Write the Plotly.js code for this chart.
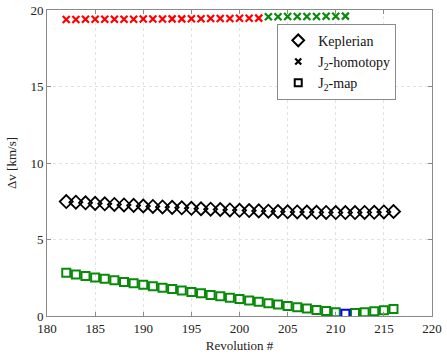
<!DOCTYPE html>
<html>
<head>
<meta charset="utf-8">
<script src="https://cdn.plot.ly/plotly-3.0.1.min.js"></script>
<style>html,body{margin:0;padding:0;background:#fff}#chart{width:447px;height:358px}</style>
</head>
<body>
<div id="chart"></div>
<script>
// Revolution numbers
const revs = [182,183,184,185,186,187,188,189,190,191,192,193,194,195,196,197,198,199,200,
  201,202,203,204,205,206,207,208,209,210,211,212,213,214,215,216];

// Keplerian delta-v [km/s]
const keplerian = [7.48,7.44,7.40,7.36,7.33,7.29,7.26,7.23,7.19,7.16,7.13,7.10,7.07,7.04,7.01,
  6.98,6.96,6.93,6.91,6.89,6.87,6.85,6.83,6.81,6.80,6.79,6.78,6.77,6.76,6.76,6.76,6.77,6.78,6.80,6.83];

// J2-homotopy delta-v [km/s], split by solution branch
const homotopyRedRevs = [182,183,184,185,186,187,188,189,190,191,192,193,194,195,196,197,198,199,200,201,202];
const homotopyRed = [19.38,19.38,19.39,19.39,19.39,19.40,19.40,19.40,19.41,19.41,19.41,19.42,19.42,
  19.43,19.43,19.44,19.44,19.45,19.46,19.46,19.47];
const homotopyGreenRevs = [203,204,205,206,207,208,209,210,211];
const homotopyGreen = [19.56,19.56,19.57,19.57,19.58,19.58,19.59,19.59,19.60];

// J2-map delta-v [km/s]; the minimum revolution is highlighted
const mapRevs = [182,183,184,185,186,187,188,189,190,191,192,193,194,195,196,197,198,199,200,
  201,202,203,204,205,206,207,208,209,210,212,213,214,215,216];
const mapDv = [2.82,2.72,2.62,2.52,2.43,2.33,2.23,2.14,2.04,1.95,1.85,1.76,1.66,1.57,1.48,1.38,
  1.29,1.20,1.11,1.02,0.93,0.84,0.75,0.66,0.58,0.49,0.40,0.32,0.24,0.19,0.25,0.31,0.38,0.45];
const mapMinRev = [211];
const mapMin = [0.14];

const serif = 'Liberation Serif';

const traces = [
  {x: homotopyRedRevs, y: homotopyRed, mode: 'markers', showlegend: false,
   marker: {symbol: 'x-thin-open', size: 7, color: '#ff0000', line: {color: '#ff0000', width: 2.2}}},
  {x: homotopyGreenRevs, y: homotopyGreen, mode: 'markers', showlegend: false,
   marker: {symbol: 'x-thin-open', size: 7, color: '#0a8a0a', line: {color: '#0a8a0a', width: 2.2}}},
  {x: revs, y: keplerian, mode: 'markers', showlegend: false,
   marker: {symbol: 'diamond-open', size: 10, color: '#000', line: {color: '#000', width: 1.8}}},
  {x: mapRevs, y: mapDv, mode: 'markers', showlegend: false,
   marker: {symbol: 'square-open', size: 8, color: '#0a8a0a', line: {color: '#0a8a0a', width: 2}}},
  {x: mapMinRev, y: mapMin, mode: 'markers', showlegend: false,
   marker: {symbol: 'square-open', size: 8, color: '#0000ff', line: {color: '#0000ff', width: 2}}},
  // legend entries drawn in black
  {x: [null], y: [null], mode: 'markers', name: 'Keplerian',
   marker: {symbol: 'diamond-open', size: 9, color: '#000', line: {color: '#000', width: 2}}},
  {x: [null], y: [null], mode: 'markers', name: 'J<sub>2</sub>-homotopy',
   marker: {symbol: 'x-thin-open', size: 6, color: '#000', line: {color: '#000', width: 2.2}}},
  {x: [null], y: [null], mode: 'markers', name: 'J<sub>2</sub>-map',
   marker: {symbol: 'square-open', size: 7, color: '#000', line: {color: '#000', width: 2}}}
];

const axisCommon = {
  showline: true, linecolor: '#8a8a8a', linewidth: 1, mirror: 'ticks',
  ticks: 'inside', ticklen: 4, tickcolor: '#8a8a8a',
  showgrid: true, gridcolor: '#e2e2e2', griddash: 'dot', gridwidth: 1,
  zeroline: false, tickfont: {family: serif, size: 13, color: '#222'}
};

const layout = {
  width: 447, height: 358,
  margin: {l: 47, r: 15, t: 10, b: 42},
  paper_bgcolor: '#fff', plot_bgcolor: '#fff',
  font: {family: serif, size: 13, color: '#222'},
  xaxis: Object.assign({}, axisCommon, {
    range: [180, 220], tickvals: [180,185,190,195,200,205,210,215,220],
    title: {text: 'Revolution #', font: {family: serif, size: 13, color: '#222'}, standoff: 6}
  }),
  yaxis: Object.assign({}, axisCommon, {
    range: [0, 20], tickvals: [0,5,10,15,20],
    title: {text: 'Δv [km/s]', font: {family: serif, size: 13, color: '#222'}, standoff: 10}
  }),
  legend: {
    x: 0.598, y: 0.955, xanchor: 'left', yanchor: 'top',
    bgcolor: '#fff', bordercolor: '#8a8a8a', borderwidth: 1,
    font: {family: serif, size: 14, color: '#111'},
    itemwidth: 30, tracegroupgap: 4
  }
};

Plotly.newPlot('chart', traces, layout, {displayModeBar: false, staticPlot: true});
</script>
</body>
</html>
